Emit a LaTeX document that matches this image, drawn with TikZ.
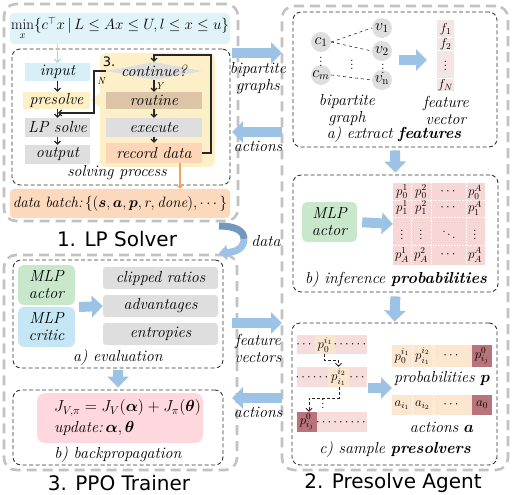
\RequirePackage{fix-cm}
\documentclass[tikz,border=0pt]{standalone}
\usepackage{amsmath,amssymb,bm}
\usepackage{fontspec}
\newfontfamily\titlefont{DejaVu Sans}
\usetikzlibrary{arrows.meta,shapes.geometric,calc}
\definecolor{outergray}{HTML}{C2C2C2}
\definecolor{cyanbg}{HTML}{DFF3F8}
\definecolor{cyanbox}{HTML}{D7EFF7}
\definecolor{yellowbox}{HTML}{FDEFC6}
\definecolor{yellowbg}{HTML}{FDF0C8}
\definecolor{graybox}{HTML}{DEDEDE}
\definecolor{tanbox}{HTML}{DCC5A7}
\definecolor{orangebox}{HTML}{FCD6B7}
\definecolor{orangebg}{HTML}{FCD9BC}
\definecolor{greenbox}{HTML}{C9E7CB}
\definecolor{bluebox}{HTML}{C4E6F5}
\definecolor{pinkmat}{HTML}{F6D7D5}
\definecolor{pinkfv}{HTML}{F3E4E6}
\definecolor{pinkstrip}{HTML}{F6DCDB}
\definecolor{cellhi}{HTML}{FCE5CF}
\definecolor{darkcell}{HTML}{B8737B}
\definecolor{probrow}{HTML}{FDE6D0}
\definecolor{pinkj}{HTML}{FFD7DE}
\definecolor{fatblue}{HTML}{9CC3E5}
\definecolor{datablue}{HTML}{7398BD}
\definecolor{orangearr}{HTML}{F7A35C}
\definecolor{cyanarr}{HTML}{A6DCEA}
\newcommand\mylab{\fontsize{16}{17}\selectfont\itshape}
\newcommand\mymid{\fontsize{15}{17}\selectfont\itshape}
\newcommand\mysmall{\fontsize{13}{13}\selectfont}
\newcommand\mybox[7]{%
  \node[#2, inner sep=0pt, minimum width={(#5-#3)*1pt}, minimum height={(#6-#4)*1pt}] (#1) at ({(#3+#5)/2},{(#4+#6)/2}) {#7};}
\tikzset{
  outerbox/.style={draw=outergray, line width=2.6pt, dash pattern=on 10pt off 6pt, rounded corners=12pt},
  innerbox/.style={draw=black!80, line width=0.9pt, dash pattern=on 4pt off 2.5pt, rounded corners=8pt},
  lab/.style={font=\mylab, inner sep=0pt, align=center},
  ttl/.style={font=\titlefont\fontsize{20}{22}\selectfont, inner sep=0pt},
  blk/.style={draw=black!85, line width=1.1pt, -{Straight Barb[length=3pt,width=6pt]}},
  fat/.style={draw=fatblue, line width=10pt, -{Triangle[width=21pt,length=11pt]}},
  circ/.style={circle, fill=graybox, minimum size=20pt, inner sep=0pt, font=\mylab},
  cell/.style={font=\mysmall, inner sep=0pt},
}
\begin{document}
\begin{tikzpicture}[x=1pt,y=-1pt]
\useasboundingbox (0,0) rectangle (515,495);
% ---------- outer boxes ----------
\mybox{lp}{outerbox}{4}{4}{238}{221}{}
\mybox{agent}{outerbox}{282}{6}{508}{470}{}
\mybox{ppo}{outerbox}{4}{255}{237}{470}{}
\node[ttl] (t1) at (117,239) {1. LP Solver};
\node[ttl] (t2) at (393,483) {2. Presolve Agent};
\node[ttl] (t3) at (119,483) {3. PPO Trainer};
% ---------- LP solver ----------
\mybox{form}{fill=cyanbg, rounded corners=4pt}{10}{13}{230}{44}{\mymid\upshape$\min\limits_x\{c^{\top}x\,|\,L\le Ax\le U, l\le x\le u\}$}
\mybox{solv}{innerbox}{12}{49}{230}{185}{}
\node[lab] (solvlab) at (117,173) {solving process};
\mybox{panel}{fill=yellowbg, rounded corners=6pt}{100}{53}{215}{167}{}
\fill[yellowbg] (100,93) -- (90,100) -- (100,107) -- cycle;
\node[font=\titlefont\fontsize{13}{13}\selectfont, inner sep=0pt] (three) at (109,62) {3.};
\mybox{inp}{fill=cyanbox}{25}{63}{90}{81}{\mylab input}
\mybox{pre}{fill=yellowbox}{23}{92}{90}{109}{\mylab presolve}
\mybox{lps}{fill=graybox}{25}{118}{90}{137}{\mylab LP solve}
\mybox{out}{fill=graybox}{25}{145}{90}{164}{\mylab output}
\node[diamond, fill=graybox, aspect=5.3, inner sep=0pt, minimum width=96pt, minimum height=18pt] (cont) at (154,71) {};
\node[lab] (contlab) at (154,71) {continue?};
\mybox{rout}{fill=tanbox}{106}{92}{202}{109}{\mylab routine}
\mybox{exe}{fill=graybox}{106}{118}{202}{137}{\mylab execute}
\mybox{rec}{fill=orangebox}{106}{143}{202}{163}{\mylab record data}
\mybox{batch}{fill=orangebg, rounded corners=4pt}{10}{189}{230}{218}{\mymid data batch:\,$\{(\bm{s},\bm{a},\bm{p},r,\mathit{done}),\cdots\}$}
\draw[cyanarr, line width=1.1pt, -{Straight Barb[length=3pt,width=6pt]}] (form.south -| inp.north) -- (inp.north);
\draw[blk] (inp.south) -- (inp.south |- pre.north);
\draw[blk] (inp.south |- pre.south) -- (inp.south |- lps.north);
\draw[blk] (lps.south) -- (out.north);
\draw[blk] (cont.south) -- (rout.north) node[midway, right=1pt, font=\fontsize{10}{10}\selectfont\itshape, inner sep=0pt] (ylab) {Y};
\draw[blk] (rout.south) -- (exe.north);
\draw[blk] (exe.south) -- (rec.north);
\coordinate (looptop) at (211,55);
\draw[blk] (rec.east) -| (looptop) -| (cont.north);
\coordinate (nturn) at (94,71);
\coordinate (njoin) at (58,113);
\draw[blk] (cont.west) -- (nturn) |- (njoin);
\node[font=\fontsize{10}{10}\selectfont\itshape, inner sep=0pt] (nlab) at (101,81) {N};
\draw[orangearr, line width=1.1pt, -{Straight Barb[length=3pt,width=6pt]}] ([xshift=26pt]rec.south) -- ([xshift=26pt]rec.south |- batch.north);
% ---------- between columns ----------
\coordinate (bgL) at (232,53); \coordinate (bgR) at (282,53);
\draw[fat] (bgL) -- (bgR);
\node[lab] (bglab) at (258,78.5) {bipartite\\graphs};
\coordinate (acL) at (232,132); \coordinate (acR) at (282,132);
\draw[fat] (acR) -- (acL);
\node[lab] (aclab) at (258,146) {actions};
\coordinate (fvL) at (232,323); \coordinate (fvR) at (282,323);
\draw[fat] (fvL) -- (fvR);
\node[lab] (fvlab) at (258,348.5) {feature\\vectors};
\coordinate (ac2L) at (232,398); \coordinate (ac2R) at (282,398);
\draw[fat] (ac2R) -- (ac2L);
\node[lab] (ac2lab) at (258,412) {actions};
% data arrow
\coordinate (dA) at (219,226);
\coordinate (dB) at (244,239);
\coordinate (dC) at (219,253);
\draw[datablue, line width=7pt] (dA) .. controls (236,226) and (244,231) .. (dB);
\draw[fatblue, line width=7pt, -{Triangle[width=15pt,length=8pt]}] (dB) .. controls (244,247) and (238,252) .. (dC);
\node[lab] (datalab) at (266,241) {data};
% ---------- Presolve agent: a) ----------
\mybox{fa}{innerbox}{293}{12}{497}{147}{}
\node[circ] (c1) at (321,42) {$c_1$};
\node[circ] (cm) at (321,75) {$c_m$};
\node[circ] (v1) at (382,28) {$v_1$};
\node[circ] (v2) at (382,51) {$v_2$};
\node[circ] (vn) at (382,80) {$v_{\mathrm{n}}$};
\draw[black!80, dashed, line width=0.6pt] (c1.east) -- (v1.west);
\draw[black!80, dashed, line width=0.6pt] (c1.east) -- (v2.west);
\draw[black!80, dashed, line width=0.6pt] (cm.east) -- (vn.west);
\node[font=\mysmall, inner sep=0pt] (d1) at (321,59) {$\vdots$};
\node[font=\mysmall, inner sep=0pt] (d2) at (352,62) {$\vdots$};
\node[font=\mysmall, inner sep=0pt] (d3) at (383,66) {$\vdots$};
\node[lab] (bglab2) at (347,110) {bipartite\\graph};
\mybox{fvec}{fill=pinkfv}{437}{20}{454}{91}{}
\draw[white, line width=0.6pt] (437,37) -- (454,37) (437,50) -- (454,50) (437,78) -- (454,78);
\node[cell] (f1) at (445.5,29) {$f_1$};
\node[cell] (f2) at (445.5,44) {$f_2$};
\node[cell] (f3) at (445.5,63) {$\vdots$};
\node[cell] (fN) at (445.5,85) {$f_N$};
\node[lab] (fvlab2) at (446,110) {feature\\vector};
\coordinate (faL) at (399,60); \coordinate (faR) at (427,60);
\draw[fat] (faL) -- (faR);
\node[lab] (falab) at (394,135) {a) extract \textbf{features}};
% ---------- b) ----------
\mybox{fb}{innerbox}{293}{175}{498}{292}{}
\draw[fat, shorten <=3pt, shorten >=2pt] (fa.south) -- (fb.north);
\mybox{act1}{fill=greenbox, rounded corners=5pt, align=center, font=\mylab}{302}{202}{357}{242}{MLP\\actor}
\mybox{mat}{fill=pinkmat}{393}{183}{485}{265}{}
\draw[white, line width=0.6pt, densely dotted] (393,200) -- (485,200) (393,217) -- (485,217) (393,245) -- (485,245)
  (411,183) -- (411,265) (431,183) -- (431,265) (466,183) -- (466,265);
\draw[fat, shorten <=5pt] (act1.east) -- (mat.west);
\foreach \y/\r in {192/0,208/1,255/A}{
  \node[cell] at (402,\y) {$p_{\r}^{1}$};
  \node[cell] at (421,\y) {$p_{\r}^{2}$};
  \node[cell] at (449,\y) {$\cdots$};
  \node[cell] at (475,\y) {$p_{\r}^{A}$};
}
\node[cell] (m31) at (402,232) {$\vdots$};
\node[cell] (m32) at (421,232) {$\vdots$};
\node[cell] (m33) at (449,232) {$\ddots$};
\node[cell] (m34) at (475,232) {$\vdots$};
\node[lab] (fblab) at (396,280) {b) inference \textbf{probabilities}};
% ---------- c) ----------
\mybox{fc}{innerbox}{292}{323}{497}{465}{}
\draw[fat, shorten <=4pt, shorten >=1pt] (fb.south) -- (fc.north);
\mybox{r1}{fill=pinkstrip}{297}{335}{367}{354}{}
\mybox{r1h}{fill=cellhi}{315}{335}{335}{354}{\mysmall$p_0^{i_1}$}
\node[cell] at (305,345) {$\cdots$};
\node[cell] at (351,345) {$\cdots\cdots$};
\mybox{r2}{fill=pinkstrip}{297}{367}{367}{387}{}
\mybox{r2h}{fill=cellhi}{328}{367}{349}{387}{\mysmall$p_{i_1}^{i_2}$}
\node[cell] at (313,378) {$\cdots\cdots$};
\node[cell] at (358,378) {$\cdots$};
\mybox{r3}{fill=pinkstrip}{297}{412}{367}{432}{}
\mybox{r3h}{fill=darkcell}{297}{412}{317}{432}{\mysmall$p_{i_j}^{0}$}
\node[cell] at (342,423) {$\cdots\cdots\cdots$};
\coordinate (k1) at (324,360); \coordinate (k2) at (339,398); \coordinate (k3) at (309,398);
\draw[black!85, line width=0.9pt, densely dashed, -{Straight Barb[length=3pt,width=6pt]}] (r1h.south -| k1) -- (k1) -| (r2h.north -| r2h);
\draw[black!85, line width=0.9pt, densely dashed, -{Straight Barb[length=3pt,width=6pt]}] (r2h.south -| k2) -- (k2) -| (r3h.north -| k3);
\node[font=\mysmall, inner sep=0pt] (vd) at (323,401) {$\vdots$};
\coordinate (cL) at (368,388); \coordinate (cR) at (392,388);
\draw[fat] (cL) -- (cR);
\mybox{pr}{fill=probrow}{392}{345}{492}{367}{}
\draw[white, line width=0.6pt, densely dotted] (412,345) -- (412,367) (433,345) -- (433,367);
\mybox{prd}{fill=darkcell}{472}{345}{492}{367}{\mysmall$p_{i_j}^{0}$}
\node[cell] at (402,356) {$p_0^{i_1}$};
\node[cell] at (422.5,356) {$p_{i_1}^{i_2}$};
\node[cell] at (452,356) {$\cdots$};
\node[lab] (prlab) at (442,379) {probabilities $\bm{p}$};
\mybox{ar}{fill=probrow}{392}{395}{492}{415}{}
\draw[white, line width=0.6pt, densely dotted] (412,395) -- (412,415) (433,395) -- (433,415);
\mybox{ard}{fill=darkcell}{472}{395}{492}{415}{\mysmall$a_0$}
\node[cell] at (402,405) {$a_{i_1}$};
\node[cell] at (422.5,405) {$a_{i_2}$};
\node[cell] at (452,405) {$\cdots$};
\node[lab] (arlab) at (442,427) {actions $\bm{a}$};
\node[lab] (fclab) at (395,450) {c) sample \textbf{presolvers}};
% ---------- PPO trainer ----------
\mybox{ea}{innerbox}{13}{260}{223}{368}{}
\mybox{mlpa}{fill=greenbox, rounded corners=6pt, align=center, font=\mylab}{18}{265}{75}{305}{MLP\\actor}
\mybox{mlpc}{fill=bluebox, rounded corners=6pt, align=center, font=\mylab}{18}{307}{75}{347}{MLP\\critic}
\mybox{clip}{fill=graybox, rounded corners=3pt}{103}{267}{218}{289}{\mylab clipped ratios}
\mybox{adv}{fill=graybox, rounded corners=3pt}{103}{295}{218}{317}{\mylab advantages}
\mybox{ent}{fill=graybox, rounded corners=3pt}{103}{323}{218}{345}{\mylab entropies}
\coordinate (eL) at (79,307);
\draw[fat] (eL) -- (adv.west);
\node[lab] (ealab) at (118,358) {a) evaluation};
\mybox{eb}{innerbox}{13}{390}{223}{465}{}
\draw[fat, shorten <=2pt, shorten >=2pt] (ea.south) -- (eb.north);
\mybox{jbox}{fill=pinkj, rounded corners=8pt}{37}{393}{203}{443}{}
\node[font=\mylab\upshape, inner sep=0pt, anchor=west] (j1) at (54,408) {$J_{V,\pi}=J_V(\bm{\alpha})+J_\pi(\bm{\theta})$};
\node[font=\mylab, inner sep=0pt, anchor=west] (j2) at (54,428) {update:\,$\bm{\alpha},\bm{\theta}$};
\node[lab] (eblab) at (118,455) {b) backpropagation};
\end{tikzpicture}
\end{document}
